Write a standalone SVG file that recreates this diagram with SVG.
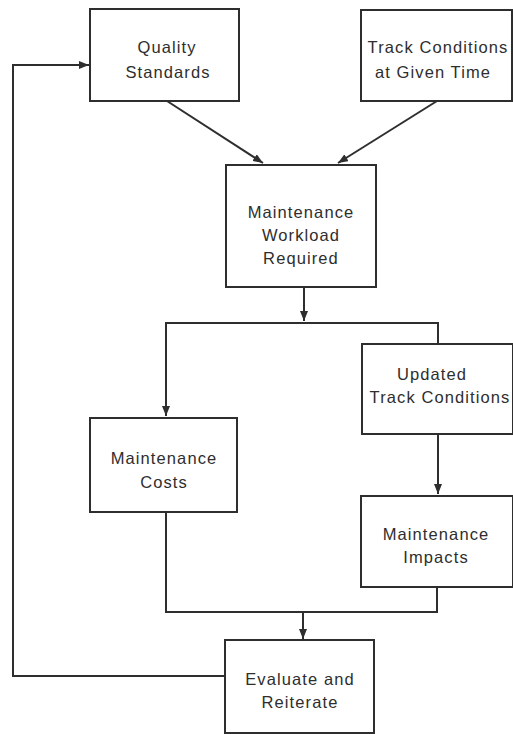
<svg xmlns="http://www.w3.org/2000/svg" width="513" height="734" viewBox="0 0 513 734">
<style>
.box{fill:#fff;stroke:#2e2e2e;stroke-width:2}
.lbl{font-family:"Liberation Sans",Arial,sans-serif;font-size:16.5px;letter-spacing:1.1px;fill:#2e2e2e;text-anchor:middle}
.ln{fill:none;stroke:#2e2e2e;stroke-width:2}
</style>
<defs>
<marker id="ah" viewBox="0 0 10 8" refX="10" refY="4" markerWidth="10" markerHeight="8" markerUnits="userSpaceOnUse" orient="auto">
<path d="M0,0 L10,4 L0,8 Z" fill="#2e2e2e"/>
</marker>
</defs>
<rect width="513" height="734" fill="#fff"/>
<g id="connectors">
<line class="ln" x1="167" y1="101" x2="263" y2="163" marker-end="url(#ah)"/>
<line class="ln" x1="437" y1="101" x2="338" y2="163" marker-end="url(#ah)"/>
<line class="ln" x1="304" y1="287" x2="304" y2="321" marker-end="url(#ah)"/>
<polyline class="ln" points="438,344 438,323 166,323 166,416" marker-end="url(#ah)"/>
<line class="ln" x1="438" y1="434" x2="438" y2="494" marker-end="url(#ah)"/>
<polyline class="ln" points="166,512 166,612 437,612 437,587"/>
<line class="ln" x1="303" y1="612" x2="303" y2="639" marker-end="url(#ah)"/>
<polyline class="ln" points="225,676 13,676 13,65 89,65" marker-end="url(#ah)"/>
</g>
<g id="quality">
<rect class="box" x="90" y="9" width="149" height="92"/>
<text class="lbl" x="167" y="53">Quality</text>
<text class="lbl" x="168" y="78">Standards</text>
</g>
<g id="track">
<rect class="box" x="361" y="10" width="151" height="91"/>
<text class="lbl" x="438" y="53">Track Conditions</text>
<text class="lbl" x="433" y="78">at Given Time</text>
</g>
<g id="workload">
<rect class="box" x="226" y="165" width="150" height="122"/>
<text class="lbl" x="301" y="218">Maintenance</text>
<text class="lbl" x="301" y="241">Workload</text>
<text class="lbl" x="301" y="264">Required</text>
</g>
<g id="costs">
<rect class="box" x="90" y="418" width="147" height="94"/>
<text class="lbl" x="164" y="464">Maintenance</text>
<text class="lbl" x="164" y="488">Costs</text>
</g>
<g id="updated">
<rect class="box" x="362" y="344" width="151" height="90"/>
<text class="lbl" x="432" y="380">Updated</text>
<text class="lbl" x="440" y="403">Track Conditions</text>
</g>
<g id="impacts">
<rect class="box" x="361" y="496" width="152" height="91"/>
<text class="lbl" x="436" y="540">Maintenance</text>
<text class="lbl" x="436" y="563">Impacts</text>
</g>
<g id="evaluate">
<rect class="box" x="225" y="640" width="149" height="93"/>
<text class="lbl" x="300" y="685">Evaluate and</text>
<text class="lbl" x="300" y="708">Reiterate</text>
</g>
</svg>
